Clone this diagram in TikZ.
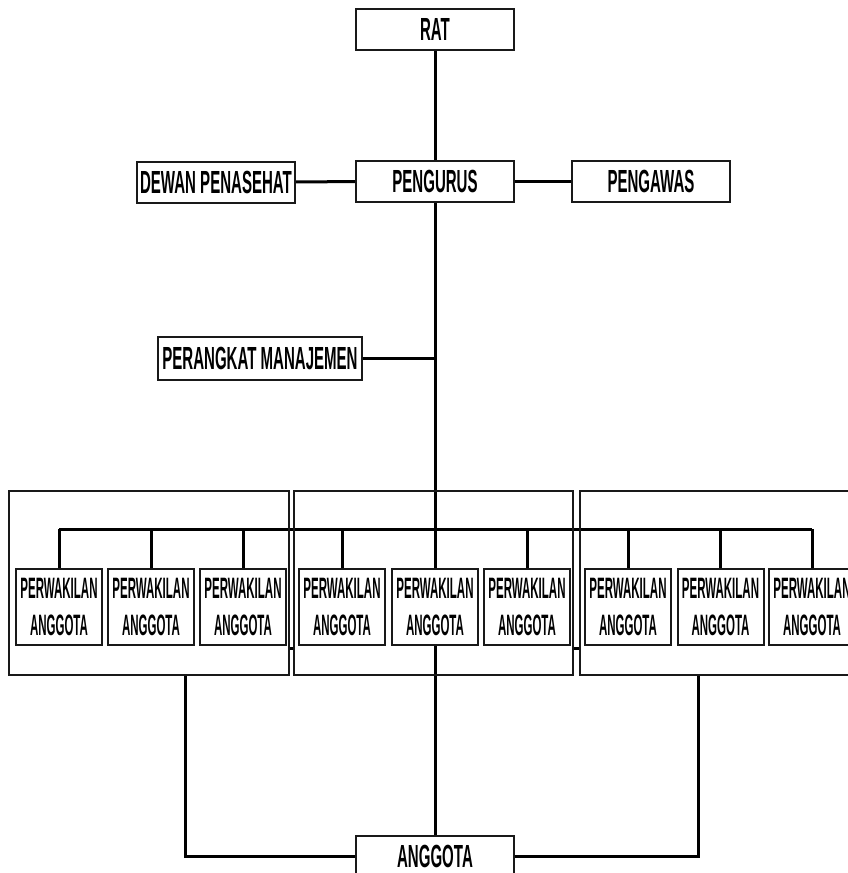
\documentclass[tikz,border=0pt]{standalone}
\usepackage{fontspec}
\usetikzlibrary{backgrounds}
\newfontfamily\mainf{Liberation Sans}[FakeStretch=0.47]
\newfontfamily\subf{Liberation Sans}[FakeStretch=0.39]
\begin{document}
\begin{tikzpicture}[x=1pt,y=-1pt,
  mainbox/.style={draw=black!90, line width=2pt, fill=white, inner sep=0pt,
    minimum width=158pt, minimum height=41pt,
    font=\mainf\bfseries\fontsize{32}{32}\selectfont},
  subbox/.style={draw=black!90, line width=2pt, fill=white, inner sep=0pt,
    minimum width=86pt, minimum height=76pt, align=center,
    font=\subf\bfseries\fontsize{29.5}{36.3}\selectfont},
  groupbox/.style={draw=black!90, line width=1.8pt, inner sep=0pt,
    minimum width=280pt, minimum height=184pt},
  conn/.style={line width=3pt, black}
]
\clip (0,0) rectangle (848,873);

% group frames
\node[groupbox] (g1) at (149,583) {};
\node[groupbox, minimum width=279pt] (g2) at (433.5,583) {};
\node[groupbox] (g3) at (720,583) {};

% top nodes
\node[mainbox] (rat) at (435,29) {RAT};
\node[mainbox] (peng) at (435,181.5) {PENGURUS};
\node[mainbox] (dewan) at (216,182) {DEWAN PENASEHAT};
\node[mainbox] (pengawas) at (651,181.5) {PENGAWAS};
\node[mainbox, minimum width=204pt, minimum height=43pt] (pmj) at (260,358.5) {PERANGKAT MANAJEMEN};
\node[mainbox] (ang) at (435,856) {ANGGOTA};

% sub boxes
\node[subbox] (p1) at (59,607) {PERWAKILAN\\ANGGOTA};
\node[subbox] (p2) at (151,607) {PERWAKILAN\\ANGGOTA};
\node[subbox] (p3) at (243,607) {PERWAKILAN\\ANGGOTA};
\node[subbox] (p4) at (342,607) {PERWAKILAN\\ANGGOTA};
\node[subbox] (p5) at (435,607) {PERWAKILAN\\ANGGOTA};
\node[subbox] (p6) at (527,607) {PERWAKILAN\\ANGGOTA};
\node[subbox] (p7) at (628,607) {PERWAKILAN\\ANGGOTA};
\node[subbox] (p8) at (720.5,607) {PERWAKILAN\\ANGGOTA};
\node[subbox] (p9) at (812,607) {PERWAKILAN\\ANGGOTA};

% connectors (behind boxes)
\coordinate (busy) at (0,529);
\begin{pgfonlayer}{background}
\draw[conn] (rat) -- (peng);
\draw[conn] (dewan) -- (peng);
\draw[conn] (peng) -- (pengawas);
\draw[conn] (peng) -- (p5);
\draw[conn] (pmj.east) -- (pmj.east -| peng.south);
\draw[conn] (p1.north |- busy) -- (p9.north |- busy);
\foreach \p in {p1,p2,p3,p4,p6,p7,p8,p9}{
  \draw[conn] (\p.north) -- (\p.north |- busy);
}
\draw[conn] (p5) -- (ang);
\draw[conn] ([yshift=-65pt]g1.east) -- ([yshift=-65pt]g2.west);
\draw[conn] ([yshift=-65pt]g2.east) -- ([yshift=-65pt]g3.west);
\draw[conn] ([xshift=36pt]g1.south) |- (ang.west);
\draw[conn] ([xshift=-22pt]g3.south) |- (ang.east);
\end{pgfonlayer}
\end{tikzpicture}
\end{document}
